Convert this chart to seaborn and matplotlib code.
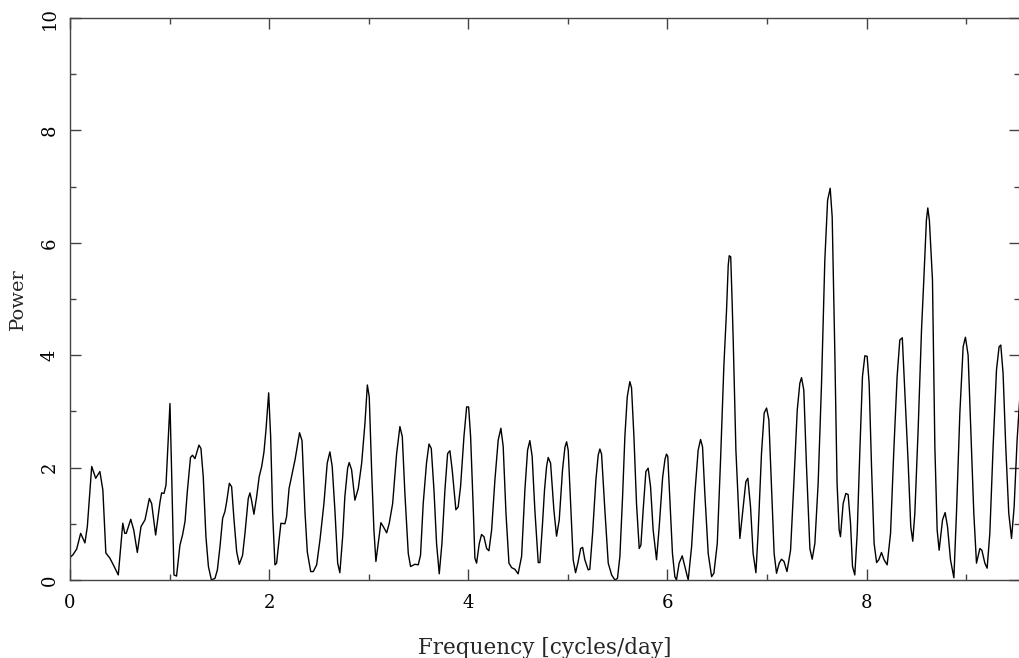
import matplotlib
matplotlib.use("Agg")
from matplotlib import pyplot as plt
from matplotlib.ticker import MultipleLocator
import seaborn as sns

# periodogram (frequency in cycles/day, power)
freq = [0.00, 0.03, 0.067, 0.107, 0.15, 0.174, 0.218, 0.258, 0.30, 0.33,
        0.36, 0.40, 0.435, 0.485, 0.53, 0.55, 0.565, 0.61, 0.64, 0.676,
        0.713, 0.753, 0.797, 0.82, 0.86, 0.904, 0.92, 0.944, 0.964, 1.004,
        1.02, 1.044, 1.07, 1.104, 1.13, 1.155, 1.178, 1.21, 1.23, 1.255,
        1.295, 1.315, 1.338, 1.365, 1.39, 1.42, 1.456, 1.48, 1.506, 1.533,
        1.556, 1.573, 1.60, 1.623, 1.647, 1.674, 1.70, 1.733, 1.757, 1.79,
        1.807, 1.823, 1.847, 1.874, 1.90, 1.925, 1.948, 1.968, 1.995, 2.015,
        2.035, 2.058, 2.075, 2.09, 2.118, 2.158, 2.175, 2.20, 2.225, 2.26,
        2.305, 2.33, 2.36, 2.383, 2.417, 2.443, 2.477, 2.51, 2.55, 2.583,
        2.61, 2.633, 2.66, 2.688, 2.71, 2.738, 2.76, 2.788, 2.804, 2.828,
        2.861, 2.895, 2.929, 2.962, 2.986, 3.005, 3.03, 3.052, 3.072, 3.095,
        3.122, 3.146, 3.18, 3.206, 3.24, 3.28, 3.313, 3.337, 3.363, 3.397,
        3.42, 3.464, 3.497, 3.52, 3.547, 3.58, 3.605, 3.628, 3.655, 3.681,
        3.708, 3.735, 3.765, 3.792, 3.815, 3.838, 3.875, 3.898, 3.922, 3.956,
        3.983, 4.003, 4.023, 4.05, 4.066, 4.083, 4.11, 4.133, 4.157, 4.184,
        4.207, 4.234, 4.267, 4.30, 4.327, 4.35, 4.378, 4.408, 4.435, 4.468,
        4.50, 4.535, 4.568, 4.595, 4.618, 4.641, 4.668, 4.702, 4.719, 4.745,
        4.765, 4.786, 4.802, 4.826, 4.859, 4.886, 4.913, 4.946, 4.97, 4.987,
        5.003, 5.027, 5.053, 5.077, 5.10, 5.128, 5.148, 5.17, 5.204, 5.22,
        5.248, 5.281, 5.304, 5.321, 5.338, 5.371, 5.405, 5.439, 5.472, 5.498,
        5.522, 5.549, 5.572, 5.596, 5.622, 5.639, 5.663, 5.689, 5.716, 5.733,
        5.756, 5.783, 5.806, 5.83, 5.856, 5.89, 5.917, 5.951, 5.975, 5.99,
        6.003, 6.024, 6.05, 6.074, 6.09, 6.117, 6.148, 6.175, 6.208, 6.242,
        6.275, 6.308, 6.332, 6.352, 6.375, 6.409, 6.443, 6.466, 6.50, 6.533,
        6.566, 6.593, 6.61, 6.62, 6.635, 6.65, 6.66, 6.687, 6.727, 6.76,
        6.787, 6.807, 6.834, 6.86, 6.888, 6.91, 6.944, 6.971, 6.995, 7.018,
        7.045, 7.071, 7.095, 7.122, 7.145, 7.17, 7.20, 7.236, 7.269, 7.303,
        7.329, 7.346, 7.369, 7.396, 7.43, 7.453, 7.48, 7.513, 7.547, 7.58,
        7.608, 7.634, 7.654, 7.68, 7.703, 7.724, 7.737, 7.764, 7.791, 7.814,
        7.838, 7.858, 7.881, 7.905, 7.932, 7.958, 7.982, 8.005, 8.025, 8.049,
        8.075, 8.10, 8.122, 8.149, 8.175, 8.206, 8.24, 8.273, 8.306, 8.333,
        8.358, 8.383, 8.417, 8.443, 8.463, 8.484, 8.517, 8.551, 8.574, 8.60,
        8.614, 8.63, 8.661, 8.685, 8.708, 8.728, 8.762, 8.788, 8.812, 8.842,
        8.876, 8.902, 8.936, 8.969, 8.992, 9.019, 9.046, 9.076, 9.103, 9.137,
        9.157, 9.187, 9.21, 9.237, 9.27, 9.304, 9.33, 9.347, 9.37, 9.397,
        9.427, 9.455, 9.481, 9.511, 9.54]
power = [0.40, 0.45, 0.55, 0.83, 0.66, 0.95, 2.02, 1.81, 1.93, 1.60,
         0.48, 0.39, 0.27, 0.09, 1.01, 0.83, 0.83, 1.08, 0.89, 0.49,
         0.95, 1.07, 1.45, 1.36, 0.80, 1.39, 1.55, 1.54, 1.69, 3.14,
         1.96, 0.09, 0.07, 0.62, 0.80, 1.04, 1.57, 2.18, 2.22, 2.16,
         2.40, 2.34, 1.84, 0.77, 0.24, 0.00, 0.03, 0.18, 0.59, 1.10,
         1.22, 1.39, 1.72, 1.66, 1.07, 0.50, 0.28, 0.44, 0.83, 1.45,
         1.55, 1.42, 1.17, 1.48, 1.84, 2.02, 2.28, 2.67, 3.33, 2.55,
         1.19, 0.27, 0.30, 0.56, 1.01, 1.00, 1.13, 1.63, 1.84, 2.14,
         2.62, 2.48, 1.20, 0.50, 0.15, 0.15, 0.27, 0.71, 1.36, 2.08,
         2.28, 2.02, 1.25, 0.30, 0.13, 0.77, 1.48, 1.99, 2.09, 1.96,
         1.42, 1.63, 2.08, 2.79, 3.47, 3.26, 1.90, 0.89, 0.33, 0.65,
         1.02, 0.95, 0.84, 1.01, 1.36, 2.25, 2.73, 2.55, 1.54, 0.47,
         0.24, 0.28, 0.27, 0.44, 1.36, 2.08, 2.42, 2.34, 1.60, 0.65,
         0.11, 0.65, 1.60, 2.25, 2.30, 1.96, 1.25, 1.30, 1.66, 2.55,
         3.08, 3.08, 2.55, 1.25, 0.39, 0.30, 0.65, 0.81, 0.77, 0.56,
         0.52, 0.89, 1.78, 2.49, 2.70, 2.38, 1.19, 0.30, 0.22, 0.19,
         0.11, 0.42, 1.60, 2.31, 2.48, 2.20, 1.25, 0.31, 0.31, 1.00,
         1.60, 2.02, 2.18, 2.08, 1.25, 0.78, 1.07, 1.96, 2.36, 2.46,
         2.31, 1.36, 0.36, 0.13, 0.30, 0.56, 0.58, 0.36, 0.18, 0.19,
         0.83, 1.78, 2.22, 2.33, 2.24, 1.25, 0.30, 0.09, 0.00, 0.03,
         0.42, 1.48, 2.55, 3.26, 3.53, 3.42, 2.55, 1.36, 0.56, 0.62,
         1.25, 1.93, 1.99, 1.66, 0.89, 0.36, 0.95, 1.82, 2.15, 2.24,
         2.20, 1.42, 0.47, 0.06, 0.00, 0.30, 0.43, 0.24, 0.00, 0.59,
         1.54, 2.31, 2.50, 2.37, 1.54, 0.47, 0.06, 0.12, 0.65, 2.14,
         3.80, 4.80, 5.60, 5.77, 5.75, 4.90, 4.27, 2.31, 0.74, 1.30,
         1.75, 1.81, 1.30, 0.47, 0.13, 0.83, 2.25, 2.97, 3.06, 2.85,
         1.66, 0.47, 0.12, 0.30, 0.37, 0.33, 0.15, 0.53, 1.72, 3.02,
         3.50, 3.60, 3.38, 2.02, 0.56, 0.37, 0.65, 1.72, 3.50, 5.69,
         6.76, 6.97, 6.46, 4.09, 1.72, 0.89, 0.77, 1.36, 1.54, 1.52,
         1.01, 0.24, 0.09, 0.83, 2.31, 3.62, 3.99, 3.98, 3.50, 2.02,
         0.65, 0.31, 0.36, 0.49, 0.36, 0.27, 0.83, 2.31, 3.62, 4.27,
         4.31, 3.35, 2.08, 0.95, 0.69, 1.19, 2.67, 4.45, 5.34, 6.40,
         6.62, 6.40, 5.34, 2.37, 0.89, 0.53, 1.07, 1.20, 0.95, 0.36,
         0.04, 1.19, 2.97, 4.15, 4.32, 4.00, 2.67, 1.19, 0.30, 0.56,
         0.53, 0.30, 0.21, 0.83, 2.37, 3.74, 4.15, 4.18, 3.68, 2.37,
         1.19, 0.74, 1.30, 2.49, 3.30]

sns.set_style("ticks")
plt.rcParams['font.family'] = ['DejaVu Serif']

fig = plt.figure(figsize=(10.19, 6.58), dpi=100)
ax = fig.add_axes([70 / 1019, 78 / 658, 950 / 1019, 562 / 658])

sns.lineplot(x=freq, y=power, color='black', linewidth=1.0, ax=ax)

ax.set_xlim(0, 9.54)
ax.set_ylim(0, 10)
ax.xaxis.set_major_locator(MultipleLocator(2))
ax.xaxis.set_minor_locator(MultipleLocator(1))
ax.yaxis.set_major_locator(MultipleLocator(2))
ax.yaxis.set_minor_locator(MultipleLocator(1))
ax.tick_params(which='both', direction='in', top=True, right=True,
               color='#444444', width=1.0, labelsize=13, labelcolor='black')
ax.tick_params(which='major', length=8)
ax.tick_params(which='minor', length=4)
ax.tick_params(axis='x', pad=10)
ax.tick_params(axis='y', pad=8)
for lab in ax.get_yticklabels():
    lab.set_rotation(90)
    lab.set_va('center')
for sp in ax.spines.values():
    sp.set_color('#444444')
    sp.set_linewidth(1.0)

ax.set_xlabel('Frequency [cycles/day]', fontsize=15.5, labelpad=18)
ax.set_ylabel('Power', fontsize=14, labelpad=10)

fig.savefig('out.png', dpi=100)
